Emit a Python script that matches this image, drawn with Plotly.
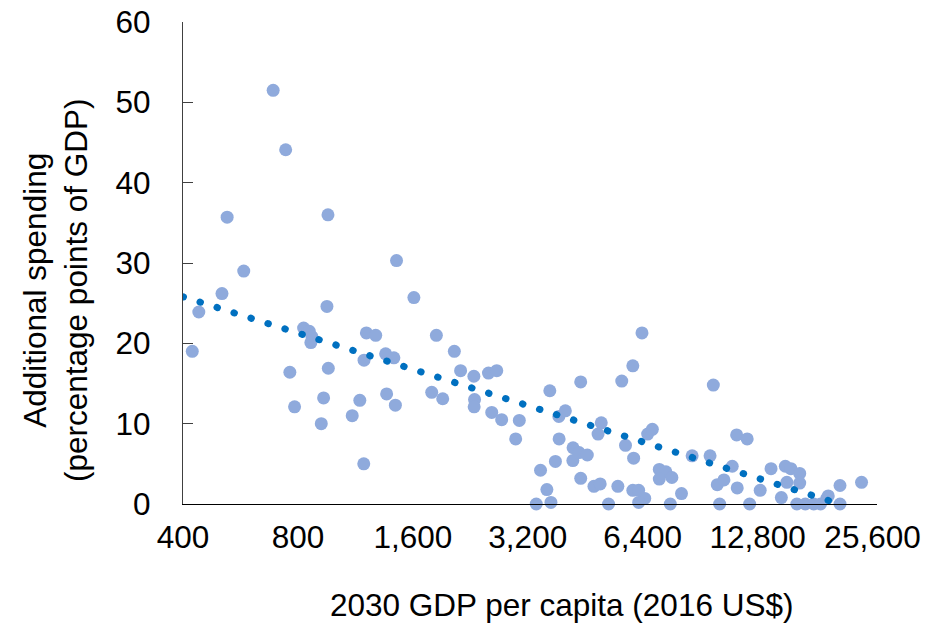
import plotly.graph_objects as go
import math

# GDP per capita 2030 (2016 US$) and additional spending (pp of GDP)
gdp_per_capita = [
    423, 440, 506, 522, 577, 689, 743, 762, 784, 828,
    857, 871, 865, 921, 934, 953, 959, 961, 1110, 1162,
    1190, 1192, 1209, 1279, 1358, 1366, 1427, 1440, 1450, 1610,
    1793, 1844, 1916, 2055, 2134, 2312, 2321, 2316, 2525, 2654,
    2575, 2734, 2975, 3041, 3368, 3456, 3591, 3655, 3680, 3781,
    3860, 3866, 4014, 4200, 4205, 4360, 4404, 4404, 4583, 4770,
    4890, 4953, 4985, 5209, 5510, 5641, 5770, 6030, 6060, 6030,
    6247, 6480, 6247, 6373, 6595, 6784, 7074, 7362, 7633, 7074,
    8088, 7560, 8624, 9608, 9800, 10036, 10447, 10180, 10984, 11320,
    11280, 12020, 12200, 13000, 13880, 14770, 15130, 15650, 16500, 15270,
    16500, 16220, 17070, 17960, 18710, 19430, 19600, 21040, 21040, 23960,
]
additional_spending = [
    19.0, 23.9, 26.2, 35.7, 29.0, 51.5, 44.1, 16.4, 12.1, 21.9,
    21.5, 20.8, 20.1, 10.0, 13.2, 24.6, 36.0, 16.9, 11.0, 12.9,
    5.0, 17.9, 21.3, 21.0, 18.7, 13.7, 18.2, 12.3, 30.3, 25.7,
    13.9, 21.0, 13.1, 19.0, 16.6, 15.9, 13.0, 12.1, 16.3, 16.6,
    11.4, 10.5, 8.1, 10.4, 0.0, 4.2, 1.8, 14.1, 0.2, 5.3,
    10.9, 8.1, 11.6, 5.4, 7.0, 6.4, 15.2, 3.2, 6.1, 2.2,
    8.7, 2.5, 10.1, 0.0, 2.2, 15.3, 7.3, 17.2, 5.7, 1.7,
    1.7, 0.7, 0.2, 21.3, 8.7, 9.3, 4.3, 4.0, 3.3, 3.1,
    1.3, 0.0, 6.0, 6.0, 14.8, 2.4, 3.0, 0.0, 4.7, 2.0,
    8.6, 8.1, 0.0, 1.7, 4.4, 0.8, 4.7, 4.4, 3.8, 2.7,
    2.6, 0.0, 0.0, 0.0, 0.0, 0.7, 1.0, 2.3, 0.0, 2.7,
]

# Logarithmic trend line endpoints
trend_x = [400, 21000]
trend_y = [25.8, 0.0]

x_tick_values = [400, 800, 1600, 3200, 6400, 12800, 25600]
x_tick_labels = ["400", "800", "1,600", "3,200", "6,400", "12,800", "25,600"]
y_tick_values = [0, 10, 20, 30, 40, 50, 60]

FONT = "Liberation Sans, Arial, sans-serif"
FS = 31.5

fig = go.Figure()
fig.add_trace(go.Scatter(
    x=gdp_per_capita, y=additional_spending, mode="markers",
    marker=dict(size=13, color="#8FAADC", line=dict(width=0)),
    cliponaxis=False, showlegend=False,
))
fig.add_trace(go.Scatter(
    x=trend_x, y=trend_y, mode="lines",
    line=dict(color="#0070C0", width=7, dash="0.5px,17.3px"),
    cliponaxis=False, showlegend=False,
))

L, R, T, B = 183, 63, 22, 120
fig.update_layout(
    width=940, height=624,
    margin=dict(l=L, r=R, t=T, b=B, pad=0, autoexpand=False),
    paper_bgcolor="white", plot_bgcolor="white",
    font=dict(family=FONT, size=FS, color="#000000"),
    xaxis=dict(
        type="log", range=[math.log10(400), math.log10(26300)],
        tickvals=x_tick_values, ticktext=x_tick_labels,
        ticks="", showgrid=False, zeroline=False, automargin=False,
        showline=True, linecolor="#000000", linewidth=1.3,
        tickfont=dict(family=FONT, size=FS, color="#000000"),
        ticklabelstandoff=5,
    ),
    yaxis=dict(
        range=[0, 60], tickvals=y_tick_values, automargin=False,
        ticks="inside", ticklen=10, tickwidth=1.3, tickcolor="#404040",
        showgrid=False, zeroline=False,
        showline=True, linecolor="#404040", linewidth=1.3,
        tickfont=dict(family=FONT, size=FS, color="#000000"),
        ticklabelstandoff=25,
    ),
)

pw = 940 - L - R
ph = 624 - T - B
fig.add_annotation(
    text="Additional spending<br>(percentage points of GDP)",
    xref="paper", yref="paper",
    x=(55 - L) / pw, y=(624 - B - 291) / ph,
    xanchor="center", yanchor="middle", textangle=-90,
    showarrow=False, font=dict(family=FONT, size=FS, color="#000000"),
)
fig.add_annotation(
    text="2030 GDP per capita (2016 US$)",
    xref="paper", yref="paper",
    x=(561 - L) / pw, y=(624 - B - 605) / ph,
    xanchor="center", yanchor="middle",
    showarrow=False, font=dict(family=FONT, size=FS, color="#000000"),
)

post = """
document.body.style.margin = '0';
var s = document.createElement('style');
s.innerHTML = '.scatterlayer path.js-line{stroke-linecap:round !important;} body{margin:0 !important;}';
document.head.appendChild(s);
"""
fig.write_html("out.html", post_script=post, config={"displayModeBar": False})
